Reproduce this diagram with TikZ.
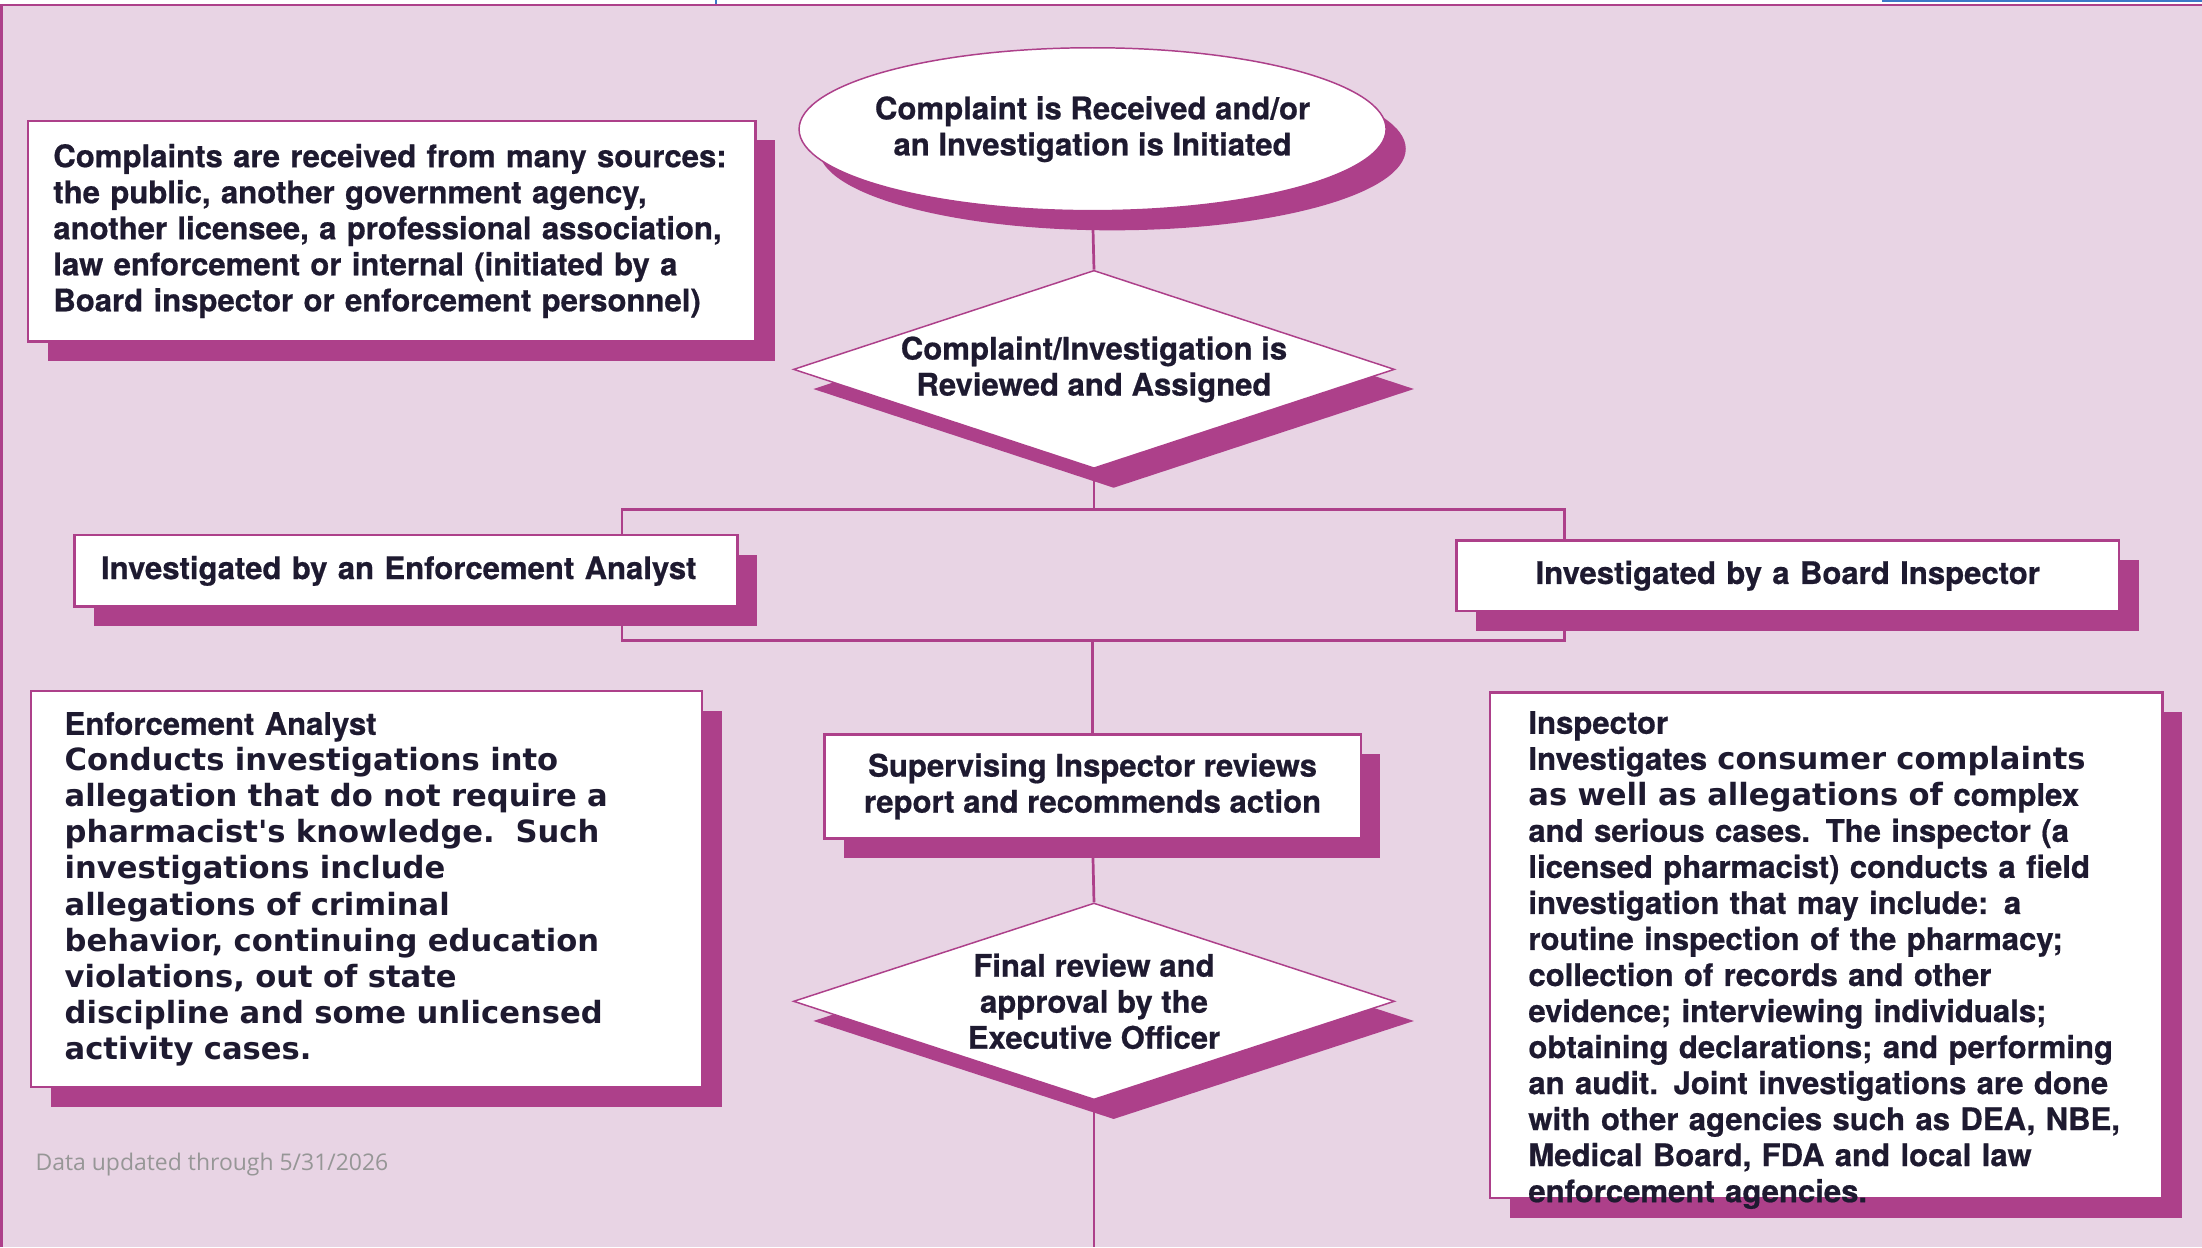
\documentclass[tikz,border=0pt]{standalone}
\usepackage{fontspec}
\setmainfont{TeX Gyre Heros}[BoldFeatures={FakeBold=0.6}]
\newfontfamily\widefont{DejaVu Sans}
\newfontfamily\notefont{Open Sans}
\usetikzlibrary{shapes.geometric,shadows}
\definecolor{bgpink}{RGB}{232,212,228}
\definecolor{plum}{RGB}{173,64,138}
\definecolor{ink}{RGB}{30,26,48}
\definecolor{notegray}{RGB}{150,150,150}
\definecolor{topblue}{RGB}{60,120,200}
\newcommand{\condtxt}{\fontsize{12.6}{14.6}\selectfont\bfseries}
\newcommand{\widetxt}{\widefont\fontsize{12.4}{14.6}\selectfont\bfseries}

\begin{document}
\begin{tikzpicture}[x=0.2mm,y=-0.2mm,font=\condtxt,text=ink,
  plumshadow/.style={drop shadow={shadow xshift=2.8mm,shadow yshift=-2.8mm,fill=plum,opacity=1}},
  box/.style={draw=plum,line width=1pt,fill=white,plumshadow},
  decision/.style={diamond,draw=plum,line width=0.6pt,fill=white,inner sep=0pt,shape aspect=3,align=center,plumshadow},
  link/.style={draw=plum,line width=1.1pt}]
  \useasboundingbox (0,0) rectangle (1568,888);
  % page and frame
  \fill[white] (0,0) rectangle (1568,888);
  \fill[bgpink] (0,3.5) rectangle (1568,888);
  \draw[plum,line width=1pt] (1,888) -- (1,3.5) -- (1568,3.5);
  \draw[topblue,line width=0.8pt] (1340,0.6) -- (1568,0.6);
  \draw[topblue,line width=0.8pt] (510,0) -- (510,2.5);
  % split bracket
  \coordinate (brTL) at (443,363);
  \coordinate (brBR) at (1114,456);
  \draw[link] (brTL) rectangle (brBR);

  \node[ellipse,draw=plum,line width=0.6pt,fill=white,plumshadow,minimum width=83.6mm,minimum height=23.2mm,
    inner xsep=-3.5mm,inner ysep=0pt,align=center] (recv) at (778,92) {Complaint is Received and/or\\an Investigation is Initiated};
  \node[decision,minimum width=85.6mm,minimum height=28.2mm] (review) at (779,263)
    {Complaint/Investigation is\\Reviewed and Assigned};
  \node[box,text width=96.4mm,inner xsep=3.6mm,minimum height=31.4mm,align=left] (sources) at (279,164.5)
    {Complaints are received from many sources:\\
     the public, another government agency,\\
     another licensee, a professional association,\\
     law enforcement or internal (initiated by a\\
     Board inspector or enforcement personnel)};

  \node[box,text width=86.8mm,inner xsep=3.8mm,minimum height=10.2mm,align=left] (analyst) at (289,406.5)
    {Investigated by an Enforcement Analyst};
  \node[box,text width=86.8mm,inner xsep=3.8mm,minimum height=10mm,align=center] (board) at (1273,410)
    {Investigated by a Board Inspector};

  \node[box,text width=86mm,inner xsep=4.8mm,minimum height=56.4mm,align=left] (ea) at (261,633)
    {Enforcement Analyst\\ \widetxt
     Conducts investigations into\\
     allegation that do not require a\\
     pharmacist's knowledge.\ \ Such\\
     investigations include\\
     allegations of criminal\\
     behavior, continuing education\\
     violations, out of state\\
     discipline and some unlicensed\\
     activity cases.};

  \node[box,minimum width=76.4mm,minimum height=14.8mm,align=center] (super) at (778,560)
    {Supervising Inspector reviews\\report and recommends action};
  \node[decision,minimum width=85.6mm,minimum height=28mm] (final) at (779,713)
    {Final review and\\approval by the\\Executive Officer};

  \node[box,minimum width=95.8mm,minimum height=72mm] (insp) at (1300.5,673) {};
  \node[anchor=north west,inner sep=0pt,text width=90mm,align=left] (insptext) at (1088,506)
    {Inspector\\
     Investigates {\widetxt consumer complaints}\\
     {\widetxt as well as allegations of} complex\\
     and serious cases. The inspector (a\\
     licensed pharmacist) conducts a field\\
     investigation that may include: a\\
     routine inspection of the pharmacy;\\
     collection of records and other\\
     evidence; interviewing individuals;\\
     obtaining declarations; and performing\\
     an audit. Joint investigations are done\\
     with other agencies such as DEA, NBE,\\
     Medical Board, FDA and local law\\
     enforcement agencies.};

  \node[anchor=west,inner sep=0pt,font=\notefont\fontsize{9.3}{11}\selectfont,text=notegray] (note) at (25,829)
    {Data updated through 5/31/2026};

  % connectors
  \coordinate (exit) at (779,888);
  \draw[link] (recv.south) -- (review.north);
  \draw[link] (review.south) -- (review.south |- brTL);
  \draw[link] (brBR -| super.north) -- (super.north);
  \draw[link] (super.south) -- (final.north);
  \draw[link] (final.south) -- (exit);
\end{tikzpicture}
\end{document}
